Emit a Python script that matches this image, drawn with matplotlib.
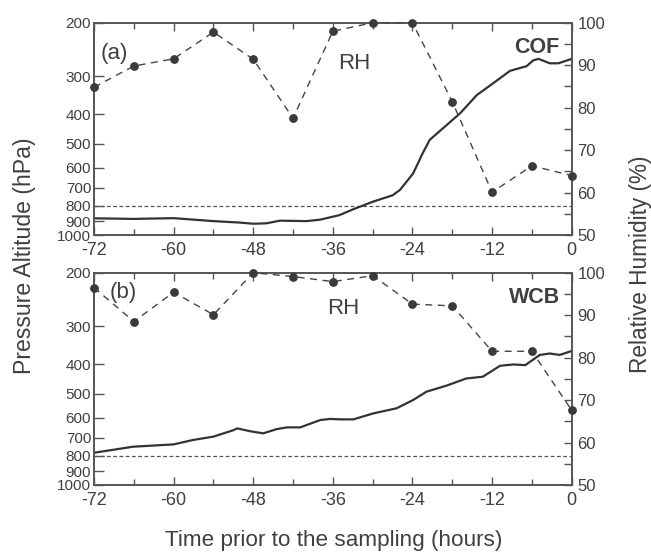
import matplotlib
matplotlib.use("Agg")
import matplotlib.pyplot as plt
from matplotlib.ticker import FixedLocator, NullFormatter, MultipleLocator
import numpy as np

plt.rcParams['font.family'] = ['Liberation Sans', 'DejaVu Sans']

# --- data ---
rh_hours = [-72, -66, -60, -54, -48, -42, -36, -30, -24, -18, -12, -6, 0]
rh_cof = [84.8, 89.8, 91.5, 97.8, 91.4, 77.5, 98.0, 100, 100, 81.4, 60.1, 66.3, 64.0]
rh_wcb = [96.5, 88.5, 95.4, 90.1, 100, 99.1, 97.9, 99.3, 92.6, 92.2, 81.5, 81.5, 67.6]

p_cof_t = [-72, -66, -60, -54, -50, -48, -46, -44, -40, -37.9, -35, -32.9, -29.9,
           -27, -25.9, -23.9, -22.5, -21.4, -19.9, -16.8, -14.3, -11.8, -9.3,
           -6.8, -5.8, -5.0, -3.3, -2.0, 0]
p_cof = [881, 885, 880, 900, 910, 918, 915, 897, 900, 890, 860, 822, 776,
         740, 711, 627, 540, 486, 455, 397, 346, 316, 288,
         278, 266, 263, 272, 272, 263]

p_wcb_t = [-72, -66.1, -60, -57.1, -54, -51, -50.4, -48.5, -46.5, -44.5, -42.9,
           -40.9, -37.9, -36.4, -34.9, -32.9, -29.9, -26.4, -23.9, -21.9, -18.9,
           -15.9, -13.4, -10.8, -8.8, -7.0, -4.8, -3.3, -1.8, 0]
p_wcb = [783, 748, 735, 711, 693, 660, 651, 665, 676, 655, 646,
         646, 611, 606, 608, 608, 581, 559, 525, 493, 471,
         446, 440, 405, 401, 403, 373, 369, 373, 362]

p_ticks = [200, 300, 400, 500, 600, 700, 800, 900, 1000]
rh_ticks = [50, 60, 70, 80, 90, 100]
x_ticks = [-72, -60, -48, -36, -24, -12, 0]

TXT = '#404040'
SP = '#555555'
LN = '#333333'

fig = plt.figure(figsize=(6.51, 5.56), dpi=100)

panels = [
    (0.5773, p_cof_t, p_cof, rh_cof, '(a)', 'COF', (0.013, 0.853), (0.544, 0.809)),
    (0.1277, p_wcb_t, p_wcb, rh_wcb, '(b)', 'WCB', (0.033, 0.906), (0.522, 0.832)),
]

for bottom, pt, pv, rh, tag, name, tagpos, rhpos in panels:
    ax = fig.add_axes([0.1444, bottom, 0.7338, 0.3818])
    ax.set_yscale('log')
    ax.set_ylim(1000, 200)
    ax.set_xlim(-72, 0)
    ax.plot(pt, pv, color=LN, lw=1.6, zorder=3)
    ax.axhline(800, color='#555555', lw=0.9, ls=(0, (3, 2)), zorder=2)
    ax.yaxis.set_major_locator(FixedLocator(p_ticks))
    ax.yaxis.set_minor_locator(FixedLocator([]))
    ax.set_yticklabels([str(v) for v in p_ticks])
    ax.yaxis.set_minor_formatter(NullFormatter())
    ax.xaxis.set_major_locator(FixedLocator(x_ticks))
    ax.xaxis.set_minor_locator(MultipleLocator(6))
    ax.set_xticklabels([str(v) for v in x_ticks])
    ax.tick_params(axis='both', which='major', direction='in', length=6,
                   width=1, color=SP, labelcolor=TXT, labelsize=11, pad=4)
    ax.tick_params(axis='x', which='both', top=True, bottom=True)
    ax.tick_params(axis='x', which='minor', direction='in', length=4,
                   width=1, color=SP)
    ax.tick_params(axis='x', which='major', labelsize=13, pad=5)
    ax.tick_params(axis='y', which='major', length=7, pad=2)
    for s in ax.spines.values():
        s.set_color(SP)
        s.set_linewidth(1.2)

    ax2 = ax.twinx()
    ax2.set_ylim(50, 100)
    ax2.plot(rh_hours, rh, color='#444444', lw=1.0, ls=(0, (5, 4)),
             marker='o', ms=5.3, mfc='#3a3a3a', mec='#3a3a3a',
             zorder=4, clip_on=False)
    ax2.yaxis.set_major_locator(FixedLocator(rh_ticks))
    ax2.yaxis.set_minor_locator(MultipleLocator(5))
    ax2.tick_params(axis='y', which='major', direction='in', length=6,
                    width=1, color=SP, labelcolor=TXT, labelsize=12, pad=4)
    ax2.tick_params(axis='y', which='minor', direction='in', length=6,
                    width=1, color=SP)
    for s in ax2.spines.values():
        s.set_color(SP)
        s.set_linewidth(1.2)

    ax.text(tagpos[0], tagpos[1], tag, transform=ax.transAxes,
            fontsize=16, color=TXT, va='center', ha='left')
    ax.text(rhpos[0], rhpos[1], 'RH', transform=ax.transAxes, fontsize=16,
            color=TXT, va='center', ha='center')
    ax.text(0.975, 0.884, name, transform=ax.transAxes, fontsize=15.5,
            fontweight='bold', color=TXT, va='center', ha='right')

fig.text(0.037, 0.540, 'Pressure Altitude (hPa)', rotation=90, fontsize=16.6,
         color=TXT, va='center', ha='center')
fig.text(0.984, 0.525, 'Relative Humidity (%)', rotation=90, fontsize=16.3,
         color=TXT, va='center', ha='center')
fig.text(0.513, 0.046, 'Time prior to the sampling (hours)', fontsize=16.2,
         color=TXT, va='top', ha='center')

fig.savefig('out.png', dpi=100)
